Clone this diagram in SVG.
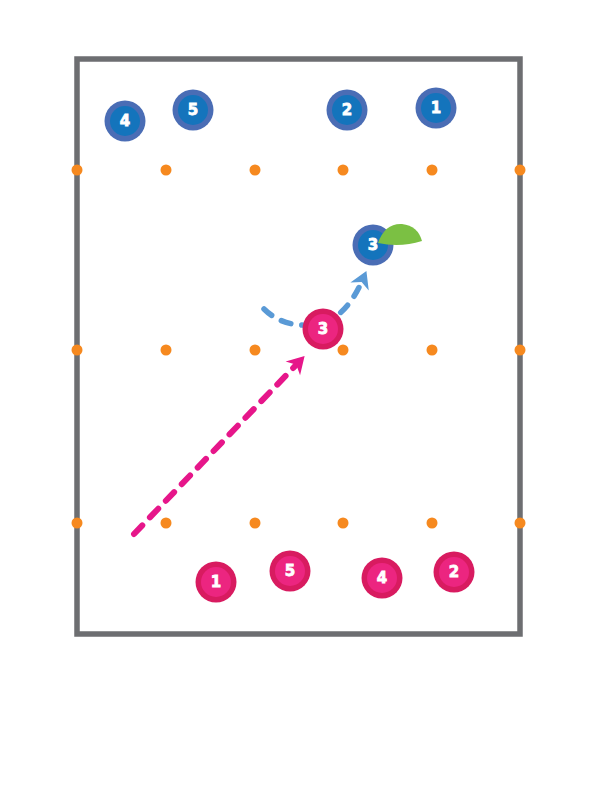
<svg xmlns="http://www.w3.org/2000/svg" width="612" height="792" viewBox="0 0 612 792">
<style>
.field{fill:none;stroke:#6d6e71;stroke-width:5.5}
.dot{fill:#f6891f}
.bo{fill:#4a6db5}
.bi{fill:#1474bc}
.po{fill:#d81b60}
.pi{fill:#ec2580}
.num{fill:#fff;stroke:#fff;stroke-width:0.8;font-family:"DejaVu Sans","Liberation Sans",sans-serif;font-weight:bold;font-size:15px;text-anchor:middle;dominant-baseline:central}
.pink{fill:none;stroke:#e6168a;stroke-width:6;stroke-linecap:round;stroke-dasharray:12 11}
.blue{fill:none;stroke:#5a9ad6;stroke-width:5.5;stroke-linecap:round;stroke-dasharray:10 11}
</style>
<defs>
<marker id="ap" markerUnits="userSpaceOnUse" viewBox="-12 -12 26 24" refX="0" refY="0" markerWidth="26" markerHeight="24" orient="auto">
<path d="M-6,-10 L11,0 L-6,10 L-1,0 Z" fill="#e6168a"/>
</marker>
<marker id="ab" markerUnits="userSpaceOnUse" viewBox="-12 -12 26 24" refX="0" refY="0" markerWidth="26" markerHeight="24" orient="auto">
<path d="M-6,-10 L11,0 L-6,10 L-1,0 Z" fill="#5a9ad6"/>
</marker>
</defs>
<rect class="field" x="77" y="59" width="443" height="575"/>
<g id="dots">
<circle class="dot" cx="77" cy="170" r="5.5"/><circle class="dot" cx="166" cy="170" r="5.5"/><circle class="dot" cx="255" cy="170" r="5.5"/><circle class="dot" cx="343" cy="170" r="5.5"/><circle class="dot" cx="432" cy="170" r="5.5"/><circle class="dot" cx="520" cy="170" r="5.5"/>
<circle class="dot" cx="77" cy="350" r="5.5"/><circle class="dot" cx="166" cy="350" r="5.5"/><circle class="dot" cx="255" cy="350" r="5.5"/><circle class="dot" cx="343" cy="350" r="5.5"/><circle class="dot" cx="432" cy="350" r="5.5"/><circle class="dot" cx="520" cy="350" r="5.5"/>
<circle class="dot" cx="77" cy="523" r="5.5"/><circle class="dot" cx="166" cy="523" r="5.5"/><circle class="dot" cx="255" cy="523" r="5.5"/><circle class="dot" cx="343" cy="523" r="5.5"/><circle class="dot" cx="432" cy="523" r="5.5"/><circle class="dot" cx="520" cy="523" r="5.5"/>
</g>
<g id="connectors">
<path class="pink" d="M134,534 L297,364" marker-end="url(#ap)"/>
<path class="blue" d="M264,309 C280,325 305,330 330,320 C345,312 355,297 362,281" marker-end="url(#ab)"/>
</g>
<g id="b4"><circle class="bo" cx="125" cy="121" r="20.5"/><circle class="bi" cx="125" cy="121" r="15"/><text class="num" x="125" y="121">4</text></g>
<g id="b5"><circle class="bo" cx="193" cy="110" r="20.5"/><circle class="bi" cx="193" cy="110" r="15"/><text class="num" x="193" y="110">5</text></g>
<g id="b2"><circle class="bo" cx="347" cy="110" r="20.5"/><circle class="bi" cx="347" cy="110" r="15"/><text class="num" x="347" y="110">2</text></g>
<g id="b1"><circle class="bo" cx="436" cy="108" r="20.5"/><circle class="bi" cx="436" cy="108" r="15"/><text class="num" x="436" y="108">1</text></g>
<g id="b3"><circle class="bo" cx="373" cy="245" r="20.5"/><circle class="bi" cx="373" cy="245" r="15"/><text class="num" x="373" y="245">3</text></g>
<g id="cone"><path d="M378,243 Q385,223 402,224 Q418,226 422,241 Q400,248 378,243 Z" fill="#7bc043"/></g>
<g id="p3"><circle class="po" cx="323" cy="329" r="20.5"/><circle class="pi" cx="323" cy="329" r="15"/><text class="num" x="323" y="329">3</text></g>
<g id="p1"><circle class="po" cx="216" cy="582" r="20.5"/><circle class="pi" cx="216" cy="582" r="15"/><text class="num" x="216" y="582">1</text></g>
<g id="p5"><circle class="po" cx="290" cy="571" r="20.5"/><circle class="pi" cx="290" cy="571" r="15"/><text class="num" x="290" y="571">5</text></g>
<g id="p4"><circle class="po" cx="382" cy="578" r="20.5"/><circle class="pi" cx="382" cy="578" r="15"/><text class="num" x="382" y="578">4</text></g>
<g id="p2"><circle class="po" cx="454" cy="572" r="20.5"/><circle class="pi" cx="454" cy="572" r="15"/><text class="num" x="454" y="572">2</text></g>
</svg>
